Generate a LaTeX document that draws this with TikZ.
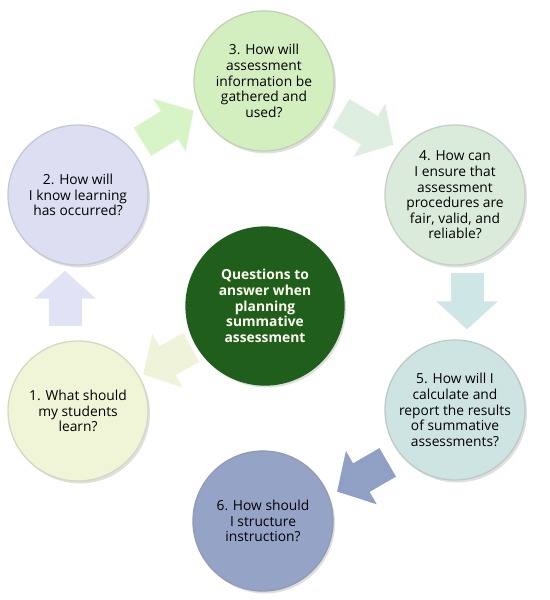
\documentclass[tikz,border=0pt]{standalone}
\usepackage{fontspec}
\setmainfont{Open Sans}
\usetikzlibrary{calc,shadows,arrows.meta}
\definecolor{qone}{HTML}{F1F5D7}
\definecolor{qtwo}{HTML}{DCDFF1}
\definecolor{qthree}{HTML}{D4EFBF}
\definecolor{qfour}{HTML}{DAEBDB}
\definecolor{qfive}{HTML}{CEE4E2}
\definecolor{qsix}{HTML}{95A4C6}
\definecolor{qmid}{HTML}{1F5F1B}
\definecolor{aone}{HTML}{E0E2F5}
\definecolor{atwo}{HTML}{D7F4C6}
\definecolor{athree}{HTML}{DDEEE0}
\definecolor{afour}{HTML}{CFE6E6}
\definecolor{afive}{HTML}{8FA0C4}
\definecolor{amid}{HTML}{EFF3DA}

\begin{document}
\begin{tikzpicture}[x=1bp,y=-1bp,
    qcirc/.style={circle,minimum size=140bp,inner sep=0pt,align=center,
      font=\fontsize{13.8bp}{15.6bp}\selectfont,line width=1.3bp,
      drop shadow={opacity=0.25,shadow xshift=2bp,shadow yshift=-2.5bp}},
    blkarrow/.style={line width=33bp,-{Triangle[width=60bp,length=28bp]}}]
    \useasboundingbox (0,0) rectangle (550,600);
    \node[qcirc,fill=qthree,draw=qthree!75!gray] (c3) at (264,81) {3. How will\\assessment\\information be\\gathered and\\used?};
    \node[qcirc,fill=qtwo,draw=qtwo!75!gray] (c2) at (78,195) {2. How will\\I know learning\\has occurred?};
    \node[qcirc,fill=qfour,draw=qfour!75!gray] (c4) at (455,195) {4. How can\\I ensure that\\assessment\\procedures are\\fair, valid, and\\reliable?};
    \node[qcirc,minimum size=158bp,fill=qmid,draw=qmid,text=white!94!yellow,font=\fontsize{13.8bp}{15.6bp}\selectfont\bfseries] (mid) at (265,306) {Questions to\\answer when\\planning\\summative\\assessment};
    \node[qcirc,fill=qone,draw=qone!75!gray] (c1) at (78,411) {1. What should\\my students\\learn?};
    \node[qcirc,fill=qfive,draw=qfive!75!gray] (c5) at (455,410) {5. How will I\\calculate and\\report the results\\of summative\\assessments?};
    \node[qcirc,fill=qsix,draw=qsix!75!gray] (c6) at (263,521) {6. How should\\I structure\\instruction?};

    \draw[blkarrow,draw=atwo,fill=atwo,shorten <=12bp,shorten >=5bp,transform canvas={shift={(-6,-10)}}] (c2) -- (c3);
    \draw[blkarrow,draw=athree,fill=athree,shorten <=12bp,shorten >=8bp,transform canvas={shift={(6,-10)}}] (c3) -- (c4);
    \draw[blkarrow,draw=afour,fill=afour,shorten <=7bp,shorten >=10bp] ([xshift=12bp]c4.south) -- ([xshift=12bp]c5.north);
    \draw[blkarrow,draw=afive,fill=afive,shorten <=14bp,shorten >=8bp,transform canvas={shift={(6,10)}}] (c5) -- (c6);
    \draw[blkarrow,draw=amid,fill=amid,shorten <=5bp,shorten >=4bp] (mid) -- (c1);
    \draw[blkarrow,draw=aone,fill=aone,shorten <=14bp,shorten >=5bp] ([xshift=-13bp]c1.north) -- ([xshift=-13bp]c2.south);
\end{tikzpicture}
\end{document}
